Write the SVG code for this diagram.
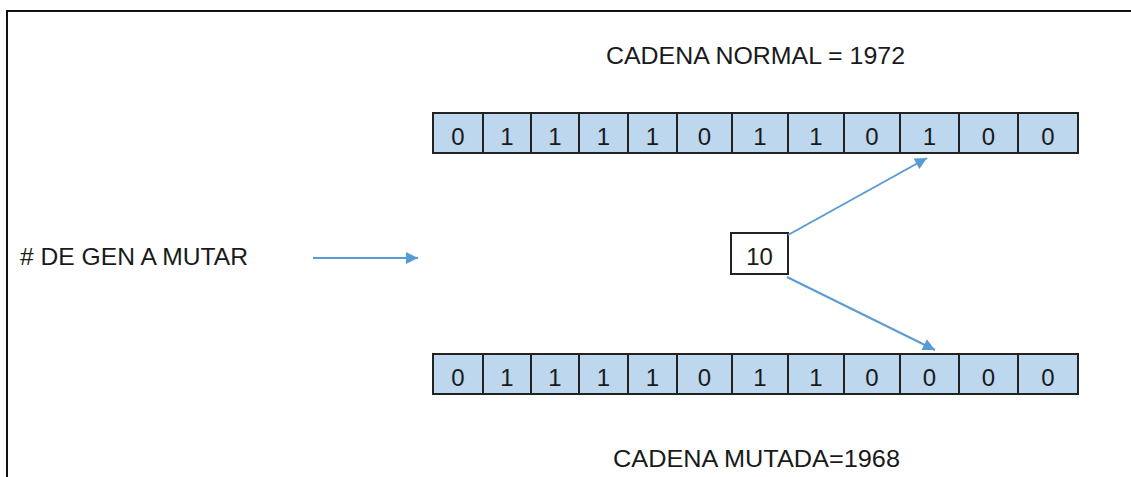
<svg xmlns="http://www.w3.org/2000/svg" width="1131" height="477" viewBox="0 0 1131 477">
  <style>
    .cell { fill: #BDD7EE; stroke: #222; stroke-width: 2; }
    .digit { font-family: "Liberation Sans", Arial, sans-serif; font-size: 24px; fill: #1a1a1a; text-anchor: middle; }
    .label { font-family: "Liberation Sans", Arial, sans-serif; font-size: 24px; fill: #1a1a1a; }
    .conn { stroke: #5B9BD5; stroke-width: 2; fill: none; marker-end: url(#arrow); }
    .box { fill: #fff; stroke: #222; stroke-width: 2; }
  </style>
  <defs>
    <marker id="arrow" viewBox="0 0 10 10" refX="10" refY="5" markerWidth="16" markerHeight="12" markerUnits="userSpaceOnUse" orient="auto">
      <path d="M0,0 L10,5 L0,10 z" fill="#5B9BD5"/>
    </marker>
  </defs>
  <rect width="1131" height="477" fill="#fff"/>
  <path d="M7,477 L7,11 L1131,11" fill="none" stroke="#111" stroke-width="2"/>

  <g id="title-normal">
    <text class="label" x="606" y="64" textLength="299" lengthAdjust="spacingAndGlyphs">CADENA NORMAL = 1972</text>
  </g>
  <g id="title-mutada">
    <text class="label" x="613" y="467" textLength="287" lengthAdjust="spacingAndGlyphs">CADENA MUTADA=1968</text>
  </g>
  <g id="label-gen">
    <text class="label" x="20" y="265" textLength="228" lengthAdjust="spacingAndGlyphs"># DE GEN A MUTAR</text>
  </g>

  <g id="array-normal">
    <rect class="cell" x="433" y="113" width="50" height="40"/>
    <rect class="cell" x="483" y="113" width="48" height="40"/>
    <rect class="cell" x="531" y="113" width="48" height="40"/>
    <rect class="cell" x="579" y="113" width="49" height="40"/>
    <rect class="cell" x="628" y="113" width="49" height="40"/>
    <rect class="cell" x="677" y="113" width="55" height="40"/>
    <rect class="cell" x="732" y="113" width="56" height="40"/>
    <rect class="cell" x="788" y="113" width="56" height="40"/>
    <rect class="cell" x="844" y="113" width="56" height="40"/>
    <rect class="cell" x="900" y="113" width="59" height="40"/>
    <rect class="cell" x="959" y="113" width="59" height="40"/>
    <rect class="cell" x="1018" y="113" width="60" height="40"/>
    <text class="digit" x="458" y="145">0</text>
    <text class="digit" x="507" y="145">1</text>
    <text class="digit" x="555" y="145">1</text>
    <text class="digit" x="603.5" y="145">1</text>
    <text class="digit" x="652.5" y="145">1</text>
    <text class="digit" x="704.5" y="145">0</text>
    <text class="digit" x="760" y="145">1</text>
    <text class="digit" x="816" y="145">1</text>
    <text class="digit" x="872" y="145">0</text>
    <text class="digit" x="929.5" y="145">1</text>
    <text class="digit" x="988.5" y="145">0</text>
    <text class="digit" x="1048" y="145">0</text>
  </g>

  <g id="array-mutada">
    <rect class="cell" x="433" y="354" width="50" height="40"/>
    <rect class="cell" x="483" y="354" width="48" height="40"/>
    <rect class="cell" x="531" y="354" width="48" height="40"/>
    <rect class="cell" x="579" y="354" width="49" height="40"/>
    <rect class="cell" x="628" y="354" width="49" height="40"/>
    <rect class="cell" x="677" y="354" width="55" height="40"/>
    <rect class="cell" x="732" y="354" width="56" height="40"/>
    <rect class="cell" x="788" y="354" width="56" height="40"/>
    <rect class="cell" x="844" y="354" width="56" height="40"/>
    <rect class="cell" x="900" y="354" width="59" height="40"/>
    <rect class="cell" x="959" y="354" width="59" height="40"/>
    <rect class="cell" x="1018" y="354" width="60" height="40"/>
    <text class="digit" x="458" y="386">0</text>
    <text class="digit" x="507" y="386">1</text>
    <text class="digit" x="555" y="386">1</text>
    <text class="digit" x="603.5" y="386">1</text>
    <text class="digit" x="652.5" y="386">1</text>
    <text class="digit" x="704.5" y="386">0</text>
    <text class="digit" x="760" y="386">1</text>
    <text class="digit" x="816" y="386">1</text>
    <text class="digit" x="872" y="386">0</text>
    <text class="digit" x="929.5" y="386">0</text>
    <text class="digit" x="988.5" y="386">0</text>
    <text class="digit" x="1048" y="386">0</text>
  </g>

  <g id="box-10">
    <rect class="box" x="731" y="233" width="57" height="41"/>
    <text class="digit" x="759.5" y="265">10</text>
  </g>

  <g id="connectors">
    <line class="conn" x1="313" y1="258" x2="418" y2="258"/>
    <line class="conn" x1="788" y1="235" x2="927" y2="158"/>
    <line class="conn" x1="787" y1="277" x2="935" y2="350"/>
  </g>
</svg>
